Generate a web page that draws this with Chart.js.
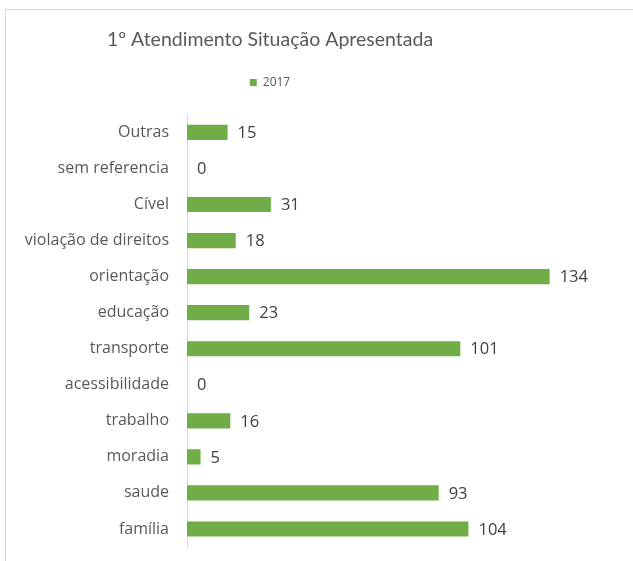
<!DOCTYPE html>
<html>
<head>
<meta charset="utf-8">
<script src="https://cdn.jsdelivr.net/npm/chart.js@4/dist/chart.umd.min.js"></script>
<style>
  html, body { margin: 0; padding: 0; background: #ffffff; }
  #wrap { width: 633px; height: 561px; position: relative; }
</style>
</head>
<body>
<div id="wrap"><canvas id="c" width="633" height="561"></canvas></div>
<script>
const chartTitle = '1º Atendimento Situação Apresentada';
const seriesName = '2017';
const categories = [
  'Outras', 'sem referencia', 'Cível', 'violação de direitos', 'orientação',
  'educação', 'transporte', 'acessibilidade', 'trabalho', 'moradia', 'saude', 'família'
];
const values2017 = [15, 0, 31, 18, 134, 23, 101, 0, 16, 5, 93, 104];

const FONT = "'Open Sans', 'Noto Sans', sans-serif";
const TITLE_FONT = "Lato, 'Open Sans', sans-serif";

// Thin grey frame around the chart object
const framePlugin = {
  id: 'frame',
  beforeDraw(chart) {
    const ctx = chart.ctx;
    ctx.save();
    ctx.fillStyle = '#ffffff';
    ctx.fillRect(0, 0, chart.width, chart.height);
    ctx.strokeStyle = '#d9d9d9';
    ctx.lineWidth = 1;
    ctx.strokeRect(5.5, 9.5, 700, 700);
    ctx.restore();
  }
};

// Extra space between the legend and the plot
const legendGap = {
  id: 'legendGap',
  beforeInit(chart) {
    const legend = chart.legend;
    if (!legend) return;
    const fit = legend.fit;
    legend.fit = function () {
      fit.call(this);
      this.height += 16;
    };
  },
  // title and legend are centred over the left part of the frame
  afterLayout(chart) {
    [chart.titleBlock, chart.legend].forEach((box) => {
      if (!box) return;
      box.left = 5;
      box.right = 535;
      box.width = 530;
    });
  }
};

// Value labels just past the end of every bar
const valueLabels = {
  id: 'valueLabels',
  afterDatasetsDraw(chart) {
    const ctx = chart.ctx;
    ctx.save();
    ctx.font = '16.5px ' + FONT;
    ctx.fillStyle = '#404040';
    ctx.textAlign = 'left';
    ctx.textBaseline = 'middle';
    chart.data.datasets.forEach((ds, di) => {
      const meta = chart.getDatasetMeta(di);
      meta.data.forEach((bar, i) => {
        ctx.fillText(String(ds.data[i]), bar.x + 10, bar.y + 1);
      });
    });
    ctx.restore();
  }
};

new Chart(document.getElementById('c'), {
  type: 'bar',
  data: {
    labels: categories,
    datasets: [{
      label: seriesName,
      data: values2017,
      backgroundColor: '#70ad47',
      borderWidth: 0,
      categoryPercentage: 1,
      barPercentage: 0.42
    }]
  },
  options: {
    indexAxis: 'y',
    responsive: false,
    animation: false,
    layout: { padding: { left: 0, right: 13, top: 14, bottom: 14 } },
    plugins: {
      title: {
        display: true,
        text: chartTitle,
        color: '#595959',
        font: { family: TITLE_FONT, size: 19.5, weight: 'normal' },
        padding: { top: 14, bottom: 15 }
      },
      legend: {
        display: true,
        position: 'top',
        labels: {
          color: '#595959',
          font: { family: FONT, size: 12 },
          boxWidth: 7,
          boxHeight: 7,
          padding: 10
        }
      },
      tooltip: { enabled: false }
    },
    scales: {
      x: {
        display: false,
        min: 0,
        max: 160,
        grid: { display: false }
      },
      y: {
        grid: { display: false, drawTicks: false },
        border: { display: true, color: '#d9d9d9', width: 1 },
        ticks: {
          color: '#595959',
          font: { family: FONT, size: 16 },
          padding: 18
        },
        afterFit(scale) {
          scale.width = 187;
          scale.paddingTop = 0;
          scale.paddingBottom = 0;
        }
      }
    }
  },
  plugins: [framePlugin, legendGap, valueLabels]
});
</script>
</body>
</html>
